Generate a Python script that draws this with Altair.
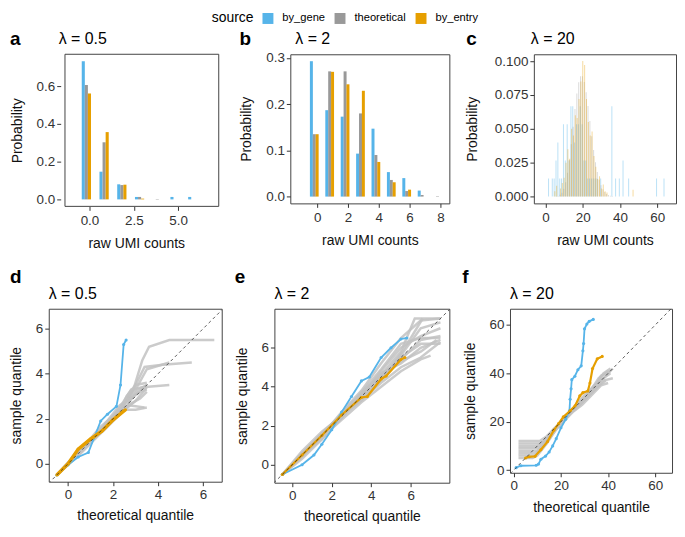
import altair as alt
import pandas as pd

FONT = "Liberation Sans"
BLUE, GRAY, ORANGE = "#56B4E9", "#999999", "#E69F00"
LINE_GRAY = "#C2C2C2"
FRAME = "#444444"
sources = ["by_gene", "theoretical", "by_entry"]
src_colors = [BLUE, GRAY, ORANGE]
legend_title = "source"

# ---------------- panel a : lambda = 0.5 ----------------
a_k = [0, 1, 2, 3, 4, 5, 6]
a_gene = [0.733, 0.147, 0.080, 0.013, 0.0, 0.013, 0.013]
a_theo = [0.607, 0.303, 0.076, 0.013, 0.002, 0.0, 0.0]
a_entry = [0.562, 0.357, 0.078, 0.004, 0.0, 0.0, 0.0]

# ---------------- panel b : lambda = 2 ----------------
b_k = [0, 1, 2, 3, 4, 5, 6, 7, 8]
b_gene = [0.293, 0.187, 0.173, 0.093, 0.147, 0.053, 0.040, 0.013, 0.0]
b_theo = [0.135, 0.271, 0.271, 0.180, 0.090, 0.036, 0.012, 0.0034, 0.0009]
b_entry = [0.135, 0.270, 0.243, 0.229, 0.075, 0.031, 0.015, 0.0, 0.0]

# ---------------- panel c : lambda = 20 ----------------
c_gene_k = [2, 4, 5, 6, 7, 8, 9, 10, 11, 12, 13, 14, 15, 16, 17, 18, 19, 20, 21, 22,
            23, 24, 25, 26, 27, 28, 30, 36, 38, 40, 42, 45, 60, 64]
c_gene_p = [0.0133, 0.0133, 0.0133, 0.0267, 0.04, 0.0133, 0.0133, 0.0533, 0.0267, 0.0533,
            0.0267, 0.0667, 0.0667, 0.04, 0.0533, 0.0533, 0.0667, 0.0533, 0.0267, 0.0267,
            0.0133, 0.0133, 0.0133, 0.0133, 0.0133, 0.0133, 0.0133, 0.0667, 0.0133, 0.0133,
            0.0267, 0.0133, 0.0133, 0.0133]
c_theo_k = [5, 6, 7, 8, 9, 10, 11, 12, 13, 14, 15, 16, 17, 18, 19, 20, 21, 22, 23, 24,
            25, 26, 27, 28, 29, 30, 31, 32, 33, 34, 35, 36]
c_theo_p = [0.0001, 0.0002, 0.0005, 0.0013, 0.0029, 0.0058, 0.0106, 0.0176, 0.0271, 0.0387,
            0.0516, 0.0646, 0.0760, 0.0844, 0.0888, 0.0888, 0.0846, 0.0769, 0.0669, 0.0557,
            0.0446, 0.0343, 0.0254, 0.0181, 0.0125, 0.0083, 0.0054, 0.0034, 0.0020, 0.0012,
            0.0007, 0.0004]
c_entry_k = [5, 6, 8, 9, 10, 11, 12, 13, 14, 15, 16, 17, 18, 19, 20, 21, 22, 23, 24, 25,
             26, 27, 28, 29, 30, 31, 32, 33, 47]
c_entry_p = [0.004, 0.008, 0.006, 0.010, 0.014, 0.025, 0.035, 0.028, 0.050, 0.045,
             0.060, 0.058, 0.072, 0.085, 0.100, 0.097, 0.072, 0.055, 0.045, 0.048,
             0.030, 0.022, 0.013, 0.015, 0.006, 0.009, 0.004, 0.003, 0.005]

# ---------------- panel d : QQ lambda = 0.5 ----------------
d_gene = [(-0.5, -0.5), (0.0, -0.05), (0.45, 0.3), (0.9, 0.5), (1.45, 1.9), (1.75, 2.2),
          (2.15, 2.55), (2.33, 3.5), (2.47, 5.3), (2.58, 5.5)]
d_entry = [(-0.5, -0.5), (0.0, 0.0), (0.45, 0.65), (1.0, 1.1), (1.5, 1.45), (2.0, 1.95),
           (2.55, 2.4)]
d_sim = [
    [(-0.5, -0.5), (0.5, 0.55), (1.5, 1.45), (2.3, 2.3), (2.9, 3.3), (3.3, 4.6), (3.6, 5.2), (4.5, 5.5), (6.5, 5.5)],
    [(-0.5, -0.5), (0.5, 0.5), (1.4, 1.5), (2.3, 2.4), (2.8, 3.1), (3.4, 4.3), (4.2, 4.4), (5.5, 4.5)],
    [(-0.5, -0.5), (0.5, 0.45), (1.5, 1.5), (2.4, 2.5), (3.0, 3.3), (3.5, 4.2), (4.5, 4.5)],
    [(-0.5, -0.5), (0.5, 0.5), (1.5, 1.6), (2.3, 2.6), (2.9, 3.0), (3.5, 3.5)],
    [(-0.5, -0.5), (0.5, 0.6), (1.6, 1.5), (2.4, 2.3), (3.0, 2.8), (3.5, 3.4)],
    [(-0.5, -0.5), (0.6, 0.5), (1.5, 1.4), (2.5, 2.4), (3.1, 3.3), (3.5, 3.5)],
    [(-0.5, -0.5), (0.5, 0.5), (1.5, 1.5), (2.3, 2.5), (2.8, 3.3), (3.3, 3.4), (4.5, 3.5)],
    [(-0.5, -0.5), (0.5, 0.5), (1.4, 1.6), (2.2, 2.3), (2.7, 2.6), (3.4, 2.5)],
    [(-0.5, -0.5), (0.5, 0.55), (1.5, 1.5), (2.5, 2.4), (3.0, 2.4), (3.5, 2.5)],
    [(-0.5, -0.5), (0.5, 0.5), (1.5, 1.45), (2.4, 2.6), (3.2, 3.2), (3.5, 3.3)],
    [(-0.5, -0.5), (0.5, 0.5), (1.5, 1.5), (2.3, 2.3), (2.6, 3.0), (3.0, 3.5), (3.5, 3.6)],
    [(-0.5, -0.5), (0.4, 0.5), (1.5, 1.5), (2.5, 2.5), (3.2, 2.9), (3.5, 3.2)],
]

# ---------------- panel e : QQ lambda = 2 ----------------
e_gene = [(-0.5, -0.5), (0.5, 0.0), (1.1, 0.5), (1.5, 1.05), (2.0, 1.8), (2.5, 2.7), (3.0, 3.5),
          (3.5, 4.3), (3.9, 4.5), (4.5, 5.5), (5.0, 6.0), (5.5, 6.45), (5.8, 6.5)]
e_entry = [(-0.5, -0.5), (0.5, 0.5), (1.5, 1.5), (2.5, 2.55), (3.5, 3.45), (3.8, 3.5), (4.5, 4.4),
           (4.75, 4.55), (5.5, 5.4), (5.7, 5.5)]
e_sim = [
    [(-0.5, -0.5), (0.5, 0.5), (1.5, 1.5), (2.5, 2.4), (3.5, 3.6), (4.5, 4.6), (5.5, 5.8), (6.2, 7.5), (7.5, 7.5)],
    [(-0.5, -0.5), (0.5, 0.3), (1.5, 1.3), (2.5, 2.5), (3.5, 3.3), (4.5, 4.2), (5.5, 5.0), (6.5, 5.5), (7.5, 6.3)],
    [(-0.5, -0.5), (0.5, 0.6), (1.5, 1.6), (2.5, 2.6), (3.5, 3.7), (4.5, 4.9), (5.5, 6.2), (6.5, 6.5), (7.5, 6.5)],
    [(-0.5, -0.5), (0.5, 0.5), (1.5, 1.4), (2.5, 2.3), (3.5, 3.2), (4.5, 4.0), (5.5, 4.8), (6.5, 5.4), (7.0, 5.6)],
    [(-0.5, -0.5), (0.5, 0.4), (1.5, 1.5), (2.5, 2.7), (3.5, 3.8), (4.5, 5.2), (5.5, 6.5), (6.5, 7.4), (7.5, 7.5)],
    [(-0.5, -0.5), (0.5, 0.5), (1.5, 1.5), (2.5, 2.5), (3.5, 3.5), (4.5, 4.5), (5.5, 5.5), (6.5, 6.2), (7.5, 6.2)],
    [(-0.5, -0.5), (0.5, 0.7), (1.5, 1.7), (2.5, 2.5), (3.5, 3.4), (4.5, 4.4), (5.5, 5.6), (6.5, 7.0), (7.5, 7.3)],
    [(-0.5, -0.5), (0.5, 0.5), (1.5, 1.3), (2.5, 2.4), (3.5, 3.6), (4.5, 4.7), (5.5, 5.2), (6.5, 6.0), (7.5, 6.4)],
    [(-0.5, -0.5), (0.5, 0.5), (1.5, 1.6), (2.5, 2.6), (3.5, 3.4), (4.5, 4.3), (5.5, 5.7), (6.0, 6.5), (6.6, 7.5)],
    [(-0.5, -0.5), (0.5, 0.6), (1.5, 1.5), (2.5, 2.4), (3.5, 3.5), (4.5, 4.8), (5.5, 6.0), (6.5, 6.6), (7.5, 7.0)],
    [(-0.5, -0.5), (0.5, 0.4), (1.5, 1.4), (2.5, 2.5), (3.5, 3.3), (4.5, 4.5), (5.5, 5.3), (6.5, 5.8), (7.3, 6.4)],
    [(-0.5, -0.5), (0.5, 0.5), (1.5, 1.5), (2.5, 2.6), (3.5, 3.7), (4.5, 4.6), (5.5, 5.4), (6.5, 6.4), (7.5, 6.6)],
]

# ---------------- panel f : QQ lambda = 20 ----------------
f_gene = [(1, 1), (3, 1.8), (9.5, 2.0), (10.5, 2.5), (11.5, 4.5), (13.5, 5.8), (15, 7.5), (16.5, 10),
          (18, 13), (20, 17.5), (22, 21), (23.6, 24.5), (23.9, 29.3), (24.3, 33.6), (24.6, 37.4),
          (25.9, 38.8), (27.2, 41.5), (28.6, 43.1), (29.3, 49.3), (29.6, 52.3), (30, 58.4),
          (31, 60.4), (32, 61.5), (33.7, 62.3)]
f_entry = [(5, 5), (6.5, 5.5), (9, 5.7), (11.5, 8.4), (14.3, 11.8), (17, 16.5), (19, 19.2), (21, 22),
           (24, 24.6), (26, 26.6), (28, 30.7), (29.3, 32), (31.4, 32.7), (32.3, 36), (33.4, 42),
           (35.4, 46), (37.5, 47)]
f_sim = [
    [(2, 5), (8, 5), (10, 6), (14, 11), (18, 17), (22, 22), (26, 26), (30, 30), (34, 35), (38, 38), (41, 40)],
    [(2, 6), (9, 6), (11, 8), (15, 13), (19, 18), (23, 23), (27, 27), (31, 30), (35, 34), (39, 37)],
    [(2, 7), (9, 7), (12, 9), (15, 14), (20, 19), (24, 24), (28, 27), (32, 32), (36, 38), (40, 41)],
    [(2, 8), (10, 8), (12, 10), (16, 15), (20, 20), (24, 24), (28, 29), (32, 33), (36, 36), (42, 42)],
    [(2, 9), (10, 9), (13, 11), (17, 16), (21, 21), (25, 25), (29, 28), (33, 32), (37, 39), (41, 41)],
    [(2, 10), (10, 10), (13, 12), (17, 17), (21, 20), (25, 24), (29, 27), (33, 31), (37, 35), (40, 36)],
    [(2, 11), (11, 11), (14, 13), (18, 17), (22, 22), (26, 25), (30, 29), (34, 34), (38, 40), (41, 42)],
    [(2, 12), (11, 12), (14, 14), (18, 18), (22, 21), (26, 26), (30, 30), (34, 33), (38, 37), (42, 38)],
]

diag_d = [-2, 9]
diag_e = [-2, 10]
diag_f = [-5, 75]

VIEW = alt.ViewBackground(stroke=FRAME, strokeWidth=1)
NOVIEW = alt.ViewBackground(stroke="transparent")


def make_axis(values, fmt, title, orient, offset=0, tpad=12, lpad=2):
    return alt.Axis(values=values, format=fmt, title=title, grid=False, domain=False,
                    ticks=True, tickSize=4, tickColor="#333333", tickWidth=1, offset=offset,
                    labelFont=FONT, labelFontSize=13.5, labelColor="#333333",
                    labelPadding=lpad, labelFlush=False, labelOverlap=False,
                    titleFont=FONT, titleFontSize=14, titleFontWeight="normal",
                    titleColor="#111111", titlePadding=tpad)


def head_layers(letter, lx, ly, lam, tx, ty):
    one = pd.DataFrame({"t": [letter], "lam": [lam]})
    let = alt.Chart(one).mark_text(
        font=FONT, fontSize=19, fontWeight="bold", align="left", baseline="alphabetic",
        color="black").encode(text="t:N", x=alt.value(lx), y=alt.value(ly))
    ttl = alt.Chart(one).mark_text(
        font=FONT, fontSize=16, fontWeight="normal", align="left", baseline="alphabetic",
        color="black").encode(text="lam:N", x=alt.value(tx), y=alt.value(ty))
    return [let, ttl]


def bar_df(series):
    rows = []
    for src, ks, ps in series:
        for k, p in zip(ks, ps):
            if p > 0:
                rows.append({"source": src, "k": k, "p": p})
    return pd.DataFrame(rows)


def bar_panel(df, xdom, ydom, xvals, xfmt, yvals, yfmt, w, h, bw, offs, op, lam, letter,
              lx, ly, tx, ty, yoff=0, ytpad=12, frame=None):
    xenc = alt.X("k:Q", scale=alt.Scale(domain=xdom, nice=False, zero=False),
                 axis=make_axis(xvals, xfmt, "raw UMI counts", "x", tpad=10, lpad=3))
    yenc = alt.Y("p:Q", scale=alt.Scale(domain=ydom, nice=False, zero=False),
                 axis=make_axis(yvals, yfmt, "Probability", "y", offset=yoff, tpad=ytpad))
    layers = []
    for src, col, off, o in zip(sources, src_colors, offs, op):
        layers.append(alt.Chart(df).transform_filter(alt.datum.source == src).mark_bar(
            width=bw, xOffset=off, color=col, opacity=o).encode(x=xenc, y=yenc, y2=alt.datum(0)))
    view = VIEW
    if frame is not None:
        layers.append(alt.Chart(pd.DataFrame({"f": [0]})).mark_rect(
            fillOpacity=0, stroke=FRAME, strokeWidth=1).encode(
            x=alt.datum(frame[0]), x2=alt.datum(frame[1]), y=alt.value(0), y2=alt.value(h)))
        view = NOVIEW
    layers += head_layers(letter, lx, ly, lam, tx, ty)
    return alt.layer(*layers).properties(width=w, height=h, view=view)


def pts_df(pts):
    return pd.DataFrame({"x": [p[0] for p in pts], "y": [p[1] for p in pts],
                         "i": list(range(len(pts)))})


def sim_df(lines):
    rows = []
    for j, line in enumerate(lines):
        for i, (x, y) in enumerate(line):
            rows.append({"line": j, "i": i, "x": x, "y": y})
    return pd.DataFrame(rows)


def qq_panel(sim, gene, entry, diag, xdom, ydom, vals, w, h, lam, letter, lx, ly, tx, ty, ow):
    xenc = alt.X("x:Q", scale=alt.Scale(domain=xdom, nice=False, zero=False),
                 axis=make_axis(vals, "d", "theoretical quantile", "x", tpad=8, lpad=2))
    yenc = alt.Y("y:Q", scale=alt.Scale(domain=ydom, nice=False, zero=False),
                 axis=make_axis(vals, "d", "sample quantile", "y"))
    g = alt.Chart(sim_df(sim)).mark_line(color=LINE_GRAY, strokeWidth=2.5, opacity=0.85).encode(
        x=xenc, y=yenc, detail="line:N", order="i:Q")
    b = alt.Chart(pts_df(gene)).mark_line(
        color=BLUE, strokeWidth=1.8,
        point=alt.OverlayMarkDef(filled=True, size=10, color=BLUE)).encode(x=xenc, y=yenc, order="i:Q")
    o = alt.Chart(pts_df(entry)).mark_line(
        color=ORANGE, strokeWidth=ow,
        point=alt.OverlayMarkDef(filled=True, size=10, color=ORANGE)).encode(x=xenc, y=yenc, order="i:Q")
    dg = alt.Chart(pd.DataFrame({"x": diag, "y": diag})).mark_line(
        color="#333333", strokeWidth=0.8, strokeDash=[3, 3], clip=True).encode(x=xenc, y=yenc)
    return alt.layer(g, b, o, dg, *head_layers(letter, lx, ly, lam, tx, ty)).properties(
        width=w, height=h, view=VIEW)


df_a = bar_df([("by_gene", a_k, a_gene), ("theoretical", a_k, a_theo), ("by_entry", a_k, a_entry)])
df_b = bar_df([("by_gene", b_k, b_gene), ("theoretical", b_k, b_theo), ("by_entry", b_k, b_entry)])
df_c = bar_df([("by_gene", c_gene_k, c_gene_p), ("theoretical", c_theo_k, c_theo_p),
               ("by_entry", c_entry_k, c_entry_p)])

# panel a is widened 12px to the left (its y axis is pulled back in by the same amount)
pa = bar_panel(df_a, [-2.014, 7.29], [-0.037, 0.77], [0, 2.5, 5.0], ".1f", [0, 0.2, 0.4, 0.6], ".1f",
               176, 153, 3.1, [-6.2, -3.1, 0], [1, 1, 1], "λ = 0.5", "a", -39, -9, 10, -10.5,
               yoff=-12, frame=(-1.38, 7.29))
pb = bar_panel(df_b, [-1.42, 8.26], [-0.0147, 0.308], [0, 2, 4, 6, 8], "d", [0, 0.1, 0.2, 0.3], ".1f",
               160, 150, 3.0, [-5.8, -2.9, 0], [1, 1, 1], "λ = 2", "b", -51, -9, 5, -10.5)
pc = bar_panel(df_c, [-3.6, 67.4], [-0.005, 0.105], [0, 20, 40, 60], "d",
               [0, 0.025, 0.05, 0.075, 0.1], ".3f",
               143, 150, 1.0, [-0.7, -0.35, 0], [0.4, 0.35, 0.38], "λ = 20", "c", -68, -9, -3, -10.5,
               ytpad=15)

pd_ = qq_panel(d_sim, d_gene, d_entry, diag_d, [-0.86, 6.83], [-0.8, 6.89], [0, 2, 4, 6],
               174, 174, "λ = 0.5", "d", -39, -26, 0, -10, 3.5)
pe = qq_panel(e_sim, e_gene, e_entry, diag_e, [-0.9, 7.95], [-0.92, 8.0], [0, 2, 4, 6],
              176, 175, "λ = 2", "e", -40, -26, 0, -10, 2.2)
pf = qq_panel(f_sim, f_gene, f_entry, diag_f, [-1.6, 67.1], [-1.1, 66.7], [0, 20, 40, 60],
              163, 165, "λ = 20", "f", -48, -26, 0, -10, 2.2)

# ---------------- legend row (colour key above the panels) ----------------
LEG_Y = 8
leg_layers = [alt.Chart(pd.DataFrame({"t": [legend_title]})).mark_text(
    font=FONT, fontSize=14, align="right", baseline="middle", color="black").encode(
    text="t:N", x=alt.value(206), y=alt.value(LEG_Y))]
leg_pos = [220.5, 293, 374.5]
for src, col, px in zip(sources, src_colors, leg_pos):
    one = pd.DataFrame({"source": [src]})
    leg_layers.append(alt.Chart(one).mark_square(size=121, opacity=1, color=col).encode(
        x=alt.value(px), y=alt.value(LEG_Y)))
    leg_layers.append(alt.Chart(one).mark_text(
        font=FONT, fontSize=11.2, align="left", baseline="middle", dx=14.5, color="black").encode(
        text="source:N", x=alt.value(px), y=alt.value(LEG_Y)))
legend_row = alt.layer(*leg_layers).properties(width=400, height=12, view=NOVIEW)

row1 = alt.hconcat(pa, pb, pc, spacing=14)
row2 = alt.hconcat(pd_, pe, pf, spacing=11)

chart = alt.vconcat(legend_row, alt.vconcat(row1, row2, spacing=16), spacing=3).properties(
    padding={"left": 0, "top": 0, "right": 0, "bottom": 0}
).configure(font=FONT).configure_view(stroke="transparent")

chart.save("out.html", embed_options={"renderer": "svg", "actions": False})
